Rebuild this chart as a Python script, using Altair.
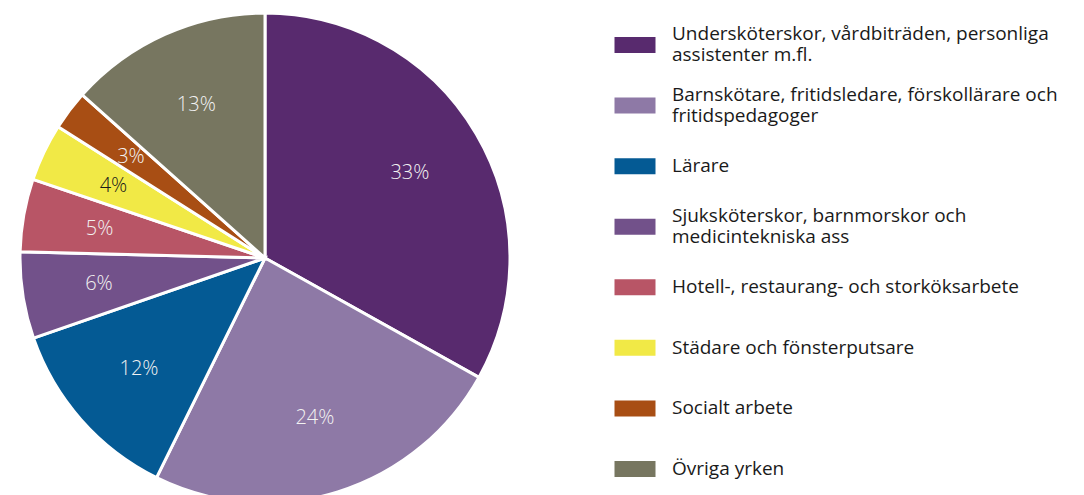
import altair as alt
import pandas as pd

categories = [
    "Undersköterskor, vårdbiträden, personliga\nassistenter m.fl.",
    "Barnskötare, fritidsledare, förskollärare och\nfritidspedagoger",
    "Lärare",
    "Sjuksköterskor, barnmorskor och\nmedicintekniska ass",
    "Hotell-, restaurang- och storköksarbete",
    "Städare och fönsterputsare",
    "Socialt arbete",
    "Övriga yrken",
]
shares = [33.1, 24.2, 12.4, 5.7, 4.8, 3.8, 2.6, 13.4]
labels = ["33%", "24%", "12%", "6%", "5%", "4%", "3%", "13%"]
colors = ["#582A6E", "#8E79A6", "#045A94", "#72518A", "#B85566", "#F1E946", "#A84E14", "#777660"]

df = pd.DataFrame({
    "cat": categories,
    "share": shares,
    "label": labels,
    "rank": list(range(len(categories))),
})

FONT = "Open Sans"
color_scale = alt.Scale(domain=categories, range=colors)

base = alt.Chart(df)

pie = base.mark_arc(outerRadius=245, stroke="white", strokeWidth=3).encode(
    theta=alt.Theta("share:Q", stack=True),
    color=alt.Color("cat:N", scale=color_scale, legend=None),
    order=alt.Order("rank:Q"),
    x=alt.value(257),
    y=alt.value(250),
)

pie_text = base.mark_text(radius=168, font=FONT, fontSize=20, fontWeight=300).encode(
    theta=alt.Theta("share:Q", stack=True),
    order=alt.Order("rank:Q"),
    text="label:N",
    x=alt.value(257),
    y=alt.value(250),
    color=alt.condition(
        alt.FieldEqualPredicate(field="cat", equal="Städare och fönsterputsare"),
        alt.value("#1a1a1a"),
        alt.value("#f2f2f2"),
    ),
)

ly = alt.Y("cat:N", sort=categories,
           scale=alt.Scale(type="point", domain=categories, range=[37, 461], padding=0),
           axis=None)

swatch = base.mark_point(
    shape="M-1,-0.39L1,-0.39L1,0.39L-1,0.39Z", size=1681, filled=True, opacity=1
).encode(
    x=alt.value(627),
    y=ly,
    color=alt.Color("cat:N", scale=color_scale, legend=None),
)

is_two = "indexof(datum.cat, '\\n') >= 0"

legend_one = base.transform_filter("!(" + is_two + ")").mark_text(
    align="left", baseline="middle", font=FONT, fontSize=19, lineBreak="\n",
    lineHeight=21, color="#1a1a1a", dy=0,
).encode(
    x=alt.value(664),
    y=ly,
    text="cat:N",
)

legend_two = base.transform_filter(is_two).mark_text(
    align="left", baseline="middle", font=FONT, fontSize=19, lineBreak="\n",
    lineHeight=21, color="#1a1a1a", dy=-11,
).encode(
    x=alt.value(664),
    y=ly,
    text="cat:N",
)

chart = alt.layer(pie, pie_text, swatch, legend_one, legend_two).properties(
    width=1068, height=487, padding=0, autosize=alt.AutoSizeParams(type="none"),
    background="white",
).configure_view(stroke=None)

chart.save("out.html", embed_options={"renderer": "svg", "actions": False})
